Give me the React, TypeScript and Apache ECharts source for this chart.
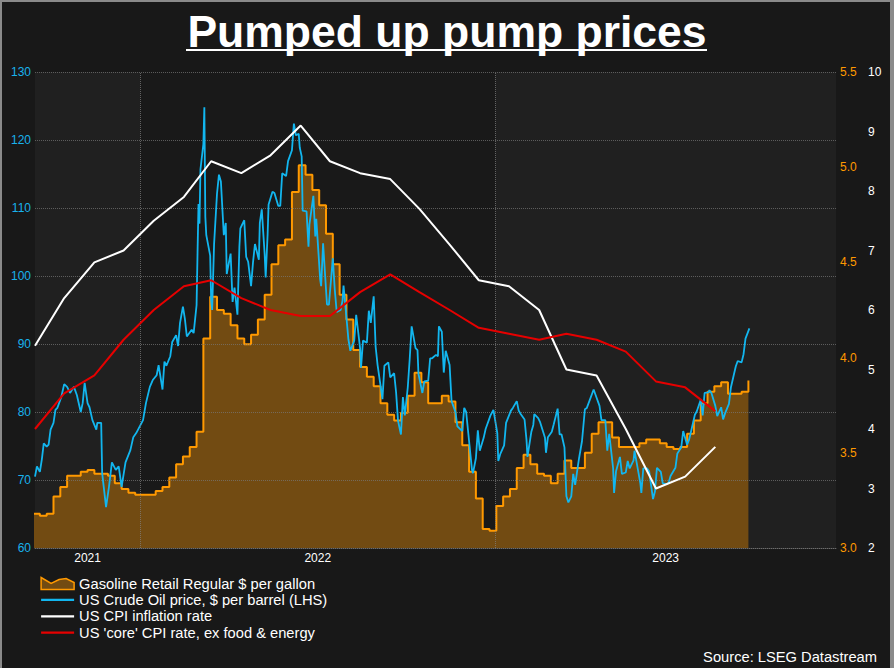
import React, { useEffect, useRef } from 'react';
import * as echarts from 'echarts';

const X_MIN = '2021-09-15';
const X_MAX = '2023-12-17';
const YEAR_STARTS = ['2022-01-01', '2023-01-01'];

const gasoline: [string, number][] = [
  ['2021-09-13', 3.18], ['2021-09-20', 3.17], ['2021-09-27', 3.18], ['2021-10-04', 3.27], ['2021-10-11', 3.32],
  ['2021-10-18', 3.38], ['2021-10-25', 3.38], ['2021-11-01', 3.40], ['2021-11-08', 3.41], ['2021-11-15', 3.39],
  ['2021-11-22', 3.39], ['2021-11-29', 3.38], ['2021-12-06', 3.34], ['2021-12-13', 3.31], ['2021-12-20', 3.29],
  ['2021-12-27', 3.28], ['2022-01-03', 3.28], ['2022-01-10', 3.28], ['2022-01-17', 3.30], ['2022-01-24', 3.32],
  ['2022-01-31', 3.37], ['2022-02-07', 3.44], ['2022-02-14', 3.48], ['2022-02-21', 3.53], ['2022-02-28', 3.61],
  ['2022-03-07', 4.10], ['2022-03-14', 4.32], ['2022-03-21', 4.25], ['2022-03-28', 4.23], ['2022-04-04', 4.17],
  ['2022-04-11', 4.10], ['2022-04-18', 4.07], ['2022-04-25', 4.12], ['2022-05-02', 4.20], ['2022-05-09', 4.33],
  ['2022-05-16', 4.49], ['2022-05-23', 4.59], ['2022-05-30', 4.62], ['2022-06-06', 4.87], ['2022-06-13', 5.01],
  ['2022-06-20', 4.96], ['2022-06-27', 4.88], ['2022-07-04', 4.80], ['2022-07-11', 4.65], ['2022-07-18', 4.49],
  ['2022-07-25', 4.33], ['2022-08-01', 4.20], ['2022-08-08', 4.04], ['2022-08-15', 3.95], ['2022-08-22', 3.90],
  ['2022-08-29', 3.85], ['2022-09-05', 3.76], ['2022-09-12', 3.70], ['2022-09-19', 3.67], ['2022-09-26', 3.71],
  ['2022-10-03', 3.80], ['2022-10-10', 3.92], ['2022-10-17', 3.87], ['2022-10-24', 3.76], ['2022-10-31', 3.76],
  ['2022-11-07', 3.80], ['2022-11-14', 3.77], ['2022-11-21', 3.66], ['2022-11-28', 3.54], ['2022-12-05', 3.40],
  ['2022-12-12', 3.26], ['2022-12-19', 3.10], ['2022-12-26', 3.09], ['2023-01-02', 3.22], ['2023-01-09', 3.27],
  ['2023-01-16', 3.31], ['2023-01-23', 3.42], ['2023-01-30', 3.49], ['2023-02-06', 3.44], ['2023-02-13', 3.39],
  ['2023-02-20', 3.38], ['2023-02-27', 3.34], ['2023-03-06', 3.39], ['2023-03-13', 3.46], ['2023-03-20', 3.42],
  ['2023-03-27', 3.42], ['2023-04-03', 3.50], ['2023-04-10', 3.60], ['2023-04-17', 3.66], ['2023-04-24', 3.66],
  ['2023-05-01', 3.58], ['2023-05-08', 3.53], ['2023-05-15', 3.53], ['2023-05-22', 3.53], ['2023-05-29', 3.55],
  ['2023-06-05', 3.57], ['2023-06-12', 3.57], ['2023-06-19', 3.55], ['2023-06-26', 3.53], ['2023-07-03', 3.52],
  ['2023-07-10', 3.53], ['2023-07-17', 3.60], ['2023-07-24', 3.67], ['2023-07-31', 3.76], ['2023-08-07', 3.82],
  ['2023-08-14', 3.85], ['2023-08-21', 3.87], ['2023-08-28', 3.81], ['2023-09-04', 3.81], ['2023-09-11', 3.82],
  ['2023-09-18', 3.88],
];

const crudeOil: [string, number][] = [
  ['2021-09-15', 70.5], ['2021-09-17', 72.0], ['2021-09-20', 71.2], ['2021-09-22', 73.0], ['2021-09-24', 75.4],
  ['2021-09-27', 74.9], ['2021-09-29', 75.2], ['2021-10-01', 77.4], ['2021-10-04', 78.4], ['2021-10-06', 80.3],
  ['2021-10-08', 80.6], ['2021-10-12', 82.2], ['2021-10-15', 84.1], ['2021-10-18', 83.7], ['2021-10-21', 82.8],
  ['2021-10-25', 83.7], ['2021-10-28', 82.5], ['2021-11-01', 80.0], ['2021-11-03', 81.3], ['2021-11-05', 84.3],
  ['2021-11-08', 81.3], ['2021-11-10', 80.7], ['2021-11-13', 78.8], ['2021-11-17', 77.4], ['2021-11-18', 78.4],
  ['2021-11-22', 78.4], ['2021-11-23', 71.0], ['2021-11-27', 66.0], ['2021-11-28', 67.0], ['2021-11-30', 69.0],
  ['2021-12-03', 72.6], ['2021-12-07', 71.5], ['2021-12-10', 72.0], ['2021-12-13', 69.0], ['2021-12-17', 72.6],
  ['2021-12-22', 74.4], ['2021-12-25', 76.3], ['2021-12-28', 76.9], ['2022-01-04', 78.8], ['2022-01-07', 81.3],
  ['2022-01-11', 83.7], ['2022-01-14', 84.7], ['2022-01-18', 85.4], ['2022-01-20', 86.9], ['2022-01-24', 83.3],
  ['2022-01-26', 87.4], ['2022-01-28', 86.8], ['2022-02-01', 88.2], ['2022-02-03', 90.3], ['2022-02-07', 91.3],
  ['2022-02-09', 89.7], ['2022-02-11', 93.1], ['2022-02-14', 95.5], ['2022-02-16', 93.7], ['2022-02-18', 91.1],
  ['2022-02-23', 92.1], ['2022-02-25', 91.6], ['2022-02-28', 95.7], ['2022-03-01', 103.4], ['2022-03-02', 110.6],
  ['2022-03-03', 107.7], ['2022-03-04', 115.7], ['2022-03-07', 119.4], ['2022-03-08', 124.8], ['2022-03-09', 108.7],
  ['2022-03-10', 106.0], ['2022-03-14', 103.0], ['2022-03-15', 96.4], ['2022-03-16', 95.0], ['2022-03-18', 104.7],
  ['2022-03-21', 112.1], ['2022-03-23', 114.9], ['2022-03-25', 113.9], ['2022-03-28', 106.0], ['2022-03-30', 107.8],
  ['2022-03-31', 100.3], ['2022-04-04', 103.3], ['2022-04-06', 96.2], ['2022-04-08', 98.3], ['2022-04-11', 94.3],
  ['2022-04-13', 104.3], ['2022-04-14', 107.0], ['2022-04-18', 108.2], ['2022-04-20', 102.8], ['2022-04-22', 102.1],
  ['2022-04-25', 98.5], ['2022-04-27', 102.0], ['2022-04-29', 104.7], ['2022-05-03', 102.4], ['2022-05-04', 107.8],
  ['2022-05-06', 109.8], ['2022-05-09', 103.1], ['2022-05-10', 99.8], ['2022-05-12', 106.1], ['2022-05-13', 110.5],
  ['2022-05-17', 112.4], ['2022-05-19', 112.2], ['2022-05-23', 110.3], ['2022-05-25', 110.3], ['2022-05-27', 115.1],
  ['2022-05-31', 114.7], ['2022-06-02', 116.9], ['2022-06-06', 118.5], ['2022-06-08', 122.4], ['2022-06-10', 120.7],
  ['2022-06-13', 120.9], ['2022-06-14', 118.9], ['2022-06-16', 117.6], ['2022-06-17', 109.6], ['2022-06-21', 109.5],
  ['2022-06-23', 104.3], ['2022-06-24', 107.6], ['2022-06-28', 111.8], ['2022-06-30', 105.8], ['2022-07-01', 108.4],
  ['2022-07-05', 99.5], ['2022-07-06', 98.5], ['2022-07-08', 104.8], ['2022-07-12', 95.8], ['2022-07-14', 95.8],
  ['2022-07-18', 102.6], ['2022-07-20', 98.0], ['2022-07-22', 94.7], ['2022-07-26', 95.0], ['2022-07-28', 96.4],
  ['2022-07-29', 98.6], ['2022-08-01', 93.9], ['2022-08-03', 90.7], ['2022-08-05', 89.0], ['2022-08-09', 90.5],
  ['2022-08-11', 94.3], ['2022-08-15', 89.4], ['2022-08-16', 86.5], ['2022-08-18', 90.5], ['2022-08-22', 90.2],
  ['2022-08-24', 94.9], ['2022-08-26', 93.1], ['2022-08-29', 97.0], ['2022-08-31', 89.6], ['2022-09-02', 86.9],
  ['2022-09-07', 81.9], ['2022-09-09', 86.8], ['2022-09-13', 87.3], ['2022-09-15', 85.1], ['2022-09-19', 85.7],
  ['2022-09-21', 82.9], ['2022-09-23', 78.7], ['2022-09-26', 76.7], ['2022-09-28', 82.2], ['2022-09-30', 79.5],
  ['2022-10-03', 83.6], ['2022-10-05', 87.8], ['2022-10-07', 92.6], ['2022-10-11', 89.4], ['2022-10-13', 89.1],
  ['2022-10-14', 85.6], ['2022-10-18', 82.8], ['2022-10-20', 84.5], ['2022-10-24', 84.6], ['2022-10-26', 87.9],
  ['2022-10-28', 87.9], ['2022-11-01', 88.4], ['2022-11-03', 88.2], ['2022-11-04', 92.6], ['2022-11-07', 91.8],
  ['2022-11-09', 85.8], ['2022-11-11', 89.0], ['2022-11-15', 86.9], ['2022-11-17', 81.6], ['2022-11-21', 80.0],
  ['2022-11-23', 77.9], ['2022-11-28', 77.2], ['2022-11-30', 80.6], ['2022-12-02', 80.0], ['2022-12-06', 74.3],
  ['2022-12-08', 71.5], ['2022-12-09', 71.0], ['2022-12-12', 73.2], ['2022-12-14', 77.3], ['2022-12-16', 74.3],
  ['2022-12-20', 76.2], ['2022-12-22', 77.5], ['2022-12-27', 79.5], ['2022-12-30', 80.3], ['2023-01-03', 76.9],
  ['2023-01-04', 72.8], ['2023-01-06', 73.8], ['2023-01-10', 75.1], ['2023-01-12', 78.4], ['2023-01-17', 80.2],
  ['2023-01-19', 80.6], ['2023-01-23', 81.6], ['2023-01-25', 80.2], ['2023-01-27', 79.7], ['2023-01-31', 78.9],
  ['2023-02-02', 75.9], ['2023-02-03', 73.4], ['2023-02-07', 77.1], ['2023-02-09', 78.1], ['2023-02-10', 79.7],
  ['2023-02-14', 79.1], ['2023-02-16', 78.5], ['2023-02-21', 76.2], ['2023-02-22', 74.0], ['2023-02-24', 76.3],
  ['2023-02-28', 77.1], ['2023-03-02', 78.2], ['2023-03-06', 80.5], ['2023-03-08', 76.7], ['2023-03-10', 76.7],
  ['2023-03-13', 74.8], ['2023-03-15', 67.6], ['2023-03-17', 66.7], ['2023-03-20', 67.6], ['2023-03-22', 70.9],
  ['2023-03-24', 69.3], ['2023-03-28', 73.2], ['2023-03-31', 75.7], ['2023-04-03', 80.4], ['2023-04-05', 80.6],
  ['2023-04-12', 83.3], ['2023-04-14', 82.5], ['2023-04-18', 80.9], ['2023-04-20', 78.8], ['2023-04-24', 78.8],
  ['2023-04-26', 74.3], ['2023-04-28', 76.8], ['2023-05-02', 71.7], ['2023-05-03', 68.1], ['2023-05-05', 71.3],
  ['2023-05-09', 73.4], ['2023-05-11', 70.9], ['2023-05-15', 71.1], ['2023-05-17', 72.8], ['2023-05-19', 71.7],
  ['2023-05-23', 72.9], ['2023-05-24', 74.3], ['2023-05-26', 72.7], ['2023-05-30', 69.5], ['2023-05-31', 68.1],
  ['2023-06-02', 71.7], ['2023-06-06', 71.7], ['2023-06-08', 71.3], ['2023-06-12', 67.2], ['2023-06-14', 68.3],
  ['2023-06-16', 71.8], ['2023-06-20', 71.2], ['2023-06-22', 69.5], ['2023-06-26', 69.4], ['2023-06-28', 69.6],
  ['2023-06-30', 70.6], ['2023-07-05', 71.8], ['2023-07-07', 73.9], ['2023-07-11', 74.8], ['2023-07-13', 77.2],
  ['2023-07-17', 75.2], ['2023-07-19', 75.9], ['2023-07-21', 77.1], ['2023-07-25', 79.6], ['2023-07-27', 80.1],
  ['2023-07-31', 81.8], ['2023-08-02', 79.5], ['2023-08-04', 82.8], ['2023-08-08', 82.9], ['2023-08-09', 83.2],
  ['2023-08-11', 82.8], ['2023-08-15', 80.9], ['2023-08-17', 79.4], ['2023-08-21', 80.7], ['2023-08-23', 78.9],
  ['2023-08-25', 79.8], ['2023-08-29', 81.2], ['2023-08-31', 83.6], ['2023-09-05', 86.7], ['2023-09-07', 87.5],
  ['2023-09-11', 87.3], ['2023-09-13', 88.5], ['2023-09-15', 90.8], ['2023-09-19', 92.3],
];

const cpiMonths: string[] = [
  '2021-09-15', '2021-10-15', '2021-11-15', '2021-12-15',
  '2022-01-15', '2022-02-15', '2022-03-15', '2022-04-15', '2022-05-15', '2022-06-15',
  '2022-07-15', '2022-08-15', '2022-09-15', '2022-10-15', '2022-11-15', '2022-12-15',
  '2023-01-15', '2023-02-15', '2023-03-15', '2023-04-15', '2023-05-15', '2023-06-15',
  '2023-07-15', '2023-08-15',
];
const cpiInflation: number[] = [
  5.4, 6.2, 6.8, 7.0, 7.5, 7.9, 8.5, 8.3, 8.6, 9.1, 8.5, 8.3, 8.2, 7.7, 7.1, 6.5, 6.4, 6.0, 5.0, 4.9, 4.0, 3.0, 3.2, 3.7,
];
const coreCpi: number[] = [
  4.0, 4.6, 4.9, 5.5, 6.0, 6.4, 6.5, 6.2, 6.0, 5.9, 5.9, 6.3, 6.6, 6.3, 6.0, 5.7, 5.6, 5.5, 5.6, 5.5, 5.3, 4.8, 4.7, 4.3,
];

const NAMES = {
  gas: 'Gasoline Retail Regular $ per gallon',
  oil: 'US Crude Oil price, $ per barrel (LHS)',
  cpi: 'US CPI inflation rate',
  core: "US 'core' CPI rate, ex food & energy",
};

const FONT = "'Liberation Sans', Arial, Helvetica, sans-serif";

const ts = (s: string) => Date.UTC(+s.slice(0, 4), +s.slice(5, 7) - 1, +s.slice(8, 10));

export default function App() {
  const ref = useRef<HTMLDivElement>(null);

  useEffect(() => {
    document.body.style.margin = '0';
    document.body.style.background = '#181818';
    if (!ref.current) return;
    const chart = echarts.init(ref.current, undefined, { renderer: 'svg' });

    const xMin = ts(X_MIN);
    const xMax = ts(X_MAX);
    const yearTs = YEAR_STARTS.map(ts);
    const bounds = [xMin, ...yearTs, xMax];
    const labelValues = bounds.slice(0, -1).map((b, i) => (b + bounds[i + 1]) / 2);

    const toPts = (rows: [string, number][]) => rows.map(([d, v]) => [ts(d), v]);
    const hiddenSymbol = { opacity: 0 };

    const option: any = {
      animation: false,
      backgroundColor: '#181818',
      textStyle: { fontFamily: FONT },
      title: [
        {
          text: 'Pumped up pump prices',
          left: 'center',
          top: 9,
          padding: 0,
          textStyle: { color: '#ffffff', fontSize: 44.5, fontWeight: 'bold', fontFamily: FONT },
        },
        {
          text: 'Source: LSEG Datastream',
          right: 17,
          bottom: 4,
          padding: 0,
          textStyle: { color: '#ffffff', fontSize: 14.7, fontWeight: 'normal', fontFamily: FONT },
        },
      ],
      graphic: [
        {
          type: 'line',
          shape: { x1: 186, y1: 50, x2: 707, y2: 50 },
          style: { stroke: '#ffffff', lineWidth: 2 },
          silent: true,
          z: 10,
        },
      ],
      legend: {
        orient: 'vertical',
        left: 40,
        top: 576,
        padding: 0,
        itemWidth: 33,
        itemHeight: 12,
        itemGap: 1.4,
        selectedMode: false,
        textStyle: { color: '#ffffff', fontSize: 14.7, fontFamily: FONT },
        data: [
          {
            name: NAMES.gas,
            icon: 'path://M0,0 L10,6 L18,2 L25,1 L33,5 L33,12 L0,12 Z',
            itemStyle: { color: '#724b12', borderColor: '#ff9900', borderWidth: 1.5 },
          },
          { name: NAMES.oil, itemStyle: hiddenSymbol, lineStyle: { width: 2.2 } },
          { name: NAMES.cpi, itemStyle: hiddenSymbol, lineStyle: { width: 2.2 } },
          { name: NAMES.core, itemStyle: hiddenSymbol, lineStyle: { width: 2.2 } },
        ],
      },
      grid: {
        left: 35,
        right: 58,
        top: 72,
        bottom: 120,
        show: true,
        backgroundColor: '#191919',
        borderWidth: 0,
      },
      xAxis: {
        type: 'value',
        min: xMin,
        max: xMax,
        axisLine: { show: true, lineStyle: { color: '#555555', type: 'dotted', width: 1 } },
        axisTick: { show: false },
        splitLine: { show: false },
        axisLabel: {
          color: '#ffffff',
          fontSize: 12,
          margin: 4,
          fontFamily: FONT,
          customValues: labelValues,
          formatter: (v: number) => String(new Date(v).getUTCFullYear()),
        },
      },
      yAxis: [
        {
          type: 'value',
          position: 'left',
          min: 60,
          max: 130,
          interval: 10,
          z: 3,
          axisLine: { show: false },
          axisTick: { show: false },
          axisLabel: { color: '#19b2ec', fontSize: 12, margin: 4, fontFamily: FONT },
          splitLine: { show: true, lineStyle: { color: 'rgba(120,120,120,0.7)', type: 'dotted', width: 1 } },
        },
        {
          type: 'value',
          position: 'right',
          min: 3.0,
          max: 5.5,
          interval: 0.5,
          axisLine: { show: false },
          axisTick: { show: false },
          splitLine: { show: false },
          axisLabel: {
            color: '#ff9900',
            fontSize: 12,
            margin: 4,
            fontFamily: FONT,
            formatter: (v: number) => v.toFixed(1),
          },
        },
        {
          type: 'value',
          position: 'right',
          offset: 28,
          min: 2,
          max: 10,
          interval: 1,
          axisLine: { show: false },
          axisTick: { show: false },
          splitLine: { show: false },
          axisLabel: { color: '#ffffff', fontSize: 12, margin: 4, fontFamily: FONT },
        },
      ],
      series: [
        {
          name: 'bands',
          type: 'line',
          data: [],
          z: 1,
          silent: true,
          markArea: {
            silent: true,
            itemStyle: { color: '#202020' },
            data: [
              [{ xAxis: xMin }, { xAxis: yearTs[0] }],
              [{ xAxis: yearTs[1] }, { xAxis: xMax }],
            ],
          },
        },
        {
          name: NAMES.gas,
          type: 'line',
          yAxisIndex: 1,
          step: 'end',
          data: toPts(gasoline),
          symbol: 'none',
          z: 2,
          lineStyle: { color: '#ff9900', width: 2 },
          itemStyle: { color: '#ff9900' },
          areaStyle: { color: '#724b12', opacity: 1 },
        },
        {
          name: 'yearlines',
          type: 'line',
          data: [],
          z: 3,
          silent: true,
          markLine: {
            silent: true,
            symbol: 'none',
            label: { show: false },
            lineStyle: { color: 'rgba(130,130,130,0.7)', type: 'dotted', width: 1 },
            data: yearTs.map((d) => ({ xAxis: d })),
          },
        },
        {
          name: NAMES.oil,
          type: 'line',
          yAxisIndex: 0,
          data: toPts(crudeOil),
          symbol: 'none',
          z: 4,
          lineStyle: { color: '#12b6ef', width: 1.8 },
          itemStyle: { color: '#12b6ef' },
        },
        {
          name: NAMES.cpi,
          type: 'line',
          yAxisIndex: 2,
          data: cpiMonths.map((d, i) => [ts(d), cpiInflation[i]]),
          symbol: 'none',
          z: 5,
          lineStyle: { color: '#ffffff', width: 2 },
          itemStyle: { color: '#ffffff' },
        },
        {
          name: NAMES.core,
          type: 'line',
          yAxisIndex: 2,
          data: cpiMonths.map((d, i) => [ts(d), coreCpi[i]]),
          symbol: 'none',
          z: 6,
          lineStyle: { color: '#e60000', width: 2 },
          itemStyle: { color: '#e60000' },
        },
      ],
    };

    chart.setOption(option);
    return () => chart.dispose();
  }, []);

  return (
    <div style={{ position: 'relative', width: 894, height: 668, background: '#181818' }}>
      <div ref={ref} style={{ position: 'absolute', left: 0, top: 0, width: 894, height: 668 }} />
      <div
        style={{
          position: 'absolute',
          left: 0,
          top: 0,
          width: 894,
          height: 668,
          boxSizing: 'border-box',
          borderLeft: '2px solid #8a8a8a',
          borderTop: '2px solid #8a8a8a',
          borderRight: '4px solid #8a8a8a',
          pointerEvents: 'none',
        }}
      />
    </div>
  );
}
